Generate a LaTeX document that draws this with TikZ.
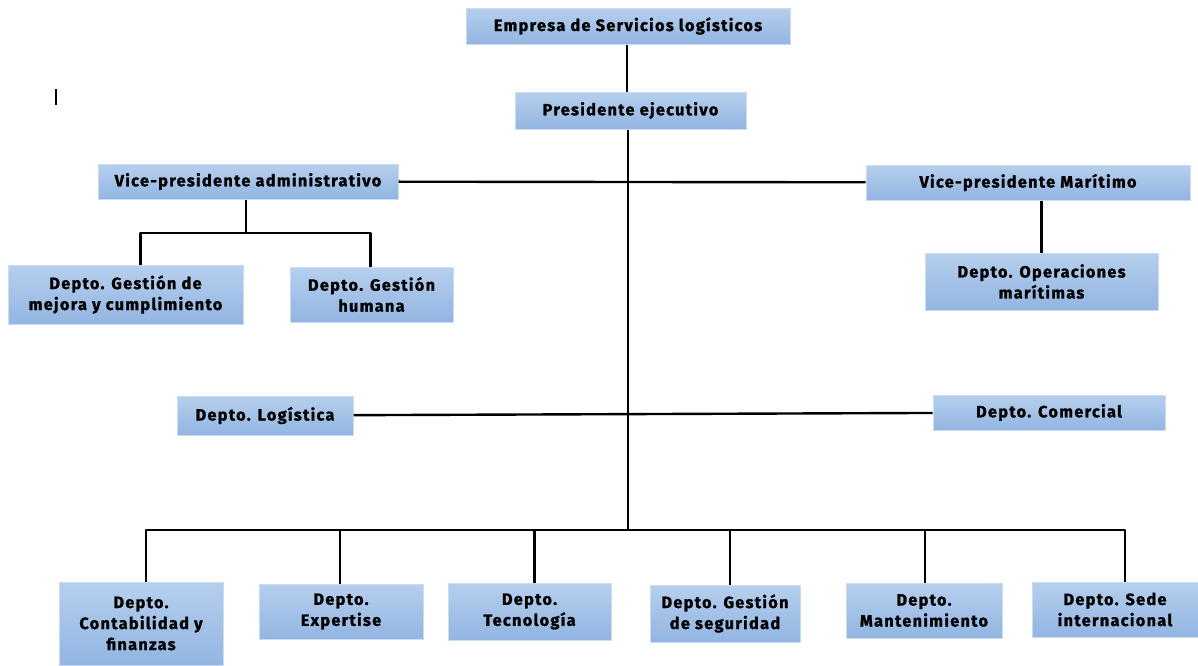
\documentclass[tikz,border=0pt]{standalone}
\usepackage{fontspec}
\setmainfont{Fira Sans}
\newfontfamily\boxfont[LetterSpace=8,BoldFeatures={FakeBold=1.3}]{Fira Sans}
\usetikzlibrary{calc}
\definecolor{boxtop}{RGB}{182,207,237}
\definecolor{boxbot}{RGB}{146,181,226}
\definecolor{boxedge}{RGB}{202,220,242}

\begin{document}
\begin{tikzpicture}[x=1pt,y=-1pt,line join=round,
  box/.style={top color=boxtop,bottom color=boxbot,draw=boxedge,line width=1pt,
    inner sep=0pt,align=center,font=\boxfont\bfseries\fontsize{16.3}{21}\selectfont},
  link/.style={line width=2.4pt,black}]
  \useasboundingbox (0,0) rectangle (1198,665);
  % top levels
  \node[box,minimum width=324,minimum height=36] (emp) at (628,26) {Empresa de Servicios logísticos};
  \node[box,minimum width=231,minimum height=37] (pres) at (630.5,110.5) {Presidente ejecutivo};
  \node[box,minimum width=300,minimum height=35] (vadm) at (248,181.5) {Vice-presidente administrativo};
  \node[box,minimum width=324,minimum height=35] (vmar) at (1028,182.5) {Vice-presidente Marítimo};
  % departments under the vice-presidents
  \node[box,minimum width=235,minimum height=59] (mejora) at (125.5,294.5) {Depto. Gestión de\\mejora y cumplimiento};
  \node[box,minimum width=163,minimum height=55] (humana) at (371.5,294.5) {Depto. Gestión\\humana};
  \node[box,minimum width=233,minimum height=57] (opmar) at (1041.5,281.5) {Depto. Operaciones\\marítimas};
  % middle row
  \node[box,minimum width=176,minimum height=39] (logi) at (265,415.5) {Depto. Logística};
  \node[box,minimum width=232,minimum height=35] (come) at (1049,412.5) {Depto. Comercial};
  % bottom row
  \node[box,minimum width=164,minimum height=83] (cont) at (141,623.5) {Depto.\\Contabilidad y\\finanzas};
  \node[box,minimum width=164,minimum height=55] (expe) at (341,611.5) {Depto.\\Expertise};
  \node[box,minimum width=163,minimum height=57] (tecn) at (529.5,611.5) {Depto.\\Tecnología};
  \node[box,minimum width=150,minimum height=57] (segu) at (725,613.5) {Depto. Gestión\\de seguridad};
  \node[box,minimum width=156,minimum height=55] (mant) at (924,610.5) {Depto.\\Mantenimiento};
  \node[box,minimum width=166,minimum height=55] (sede) at (1115,609.5) {Depto. Sede\\internacional};

  \coordinate (busV) at (246,233);
  \coordinate (busB) at (628,530);

  \draw[link] (emp.south -| 627,0) -- (pres.north -| 627,0);
  \draw[link] (pres.south -| 628,0) -- (busB);
  \draw[link] (vadm) -- (vmar);
  \draw[link] (logi) -- (come);
  \draw[link] (vadm.south -| busV) -- (busV);
  \draw[link] ([xshift=15pt]mejora.north) |- ([xshift=-1pt]humana.north |- busV) -- ([xshift=-1pt]humana.north);
  \draw[link] (vmar.south -| opmar.north) -- (opmar.north);
  \draw[link] ([xshift=5pt]cont.north) |- ([xshift=10pt]sede.north |- busB) -- ([xshift=10pt]sede.north);
  \foreach \n/\dx in {expe/-1,tecn/5,segu/5,mant/1}
    \draw[link] ([xshift=\dx pt]\n.north) -- ([xshift=\dx pt]\n.north |- busB);
  % stray mark
  \draw[line width=1.2pt] (56,89) -- (56,105);
\end{tikzpicture}
\end{document}
